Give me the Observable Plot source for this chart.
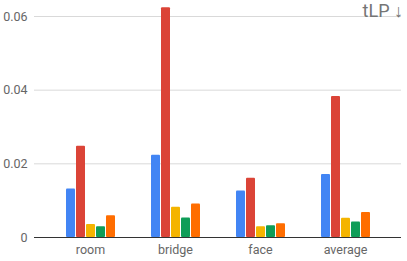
<!DOCTYPE html>
<html><head><meta charset="utf-8">
<script src="https://cdn.jsdelivr.net/npm/d3@7"></script>
<script src="https://cdn.jsdelivr.net/npm/@observablehq/plot@0.6"></script>
<style>
body{margin:0;background:#fff;font-family:Roboto,sans-serif;}
#wrap{position:relative;width:407px;height:261px;}
#wrap svg{position:absolute;left:0;top:0;}
#title{position:absolute;right:4px;top:2px;font-family:Roboto,sans-serif;font-size:18px;line-height:18px;color:#757575;z-index:3;white-space:nowrap;}
</style></head><body>
<div id="wrap"><div id="title">tLP ↓</div></div>
<script>
const groups = ["room", "bridge", "face", "average"];
const series = ["m1", "m2", "m3", "m4", "m5"];
const colors = ["#4285F4", "#DB4437", "#F4B400", "#0F9D58", "#FF6D00"];
const values = {
  m1: [0.0132, 0.0223, 0.0126, 0.0171],
  m2: [0.0248, 0.0624, 0.0161, 0.0383],
  m3: [0.0035, 0.0082, 0.0029, 0.0052],
  m4: [0.0029, 0.0053, 0.0032, 0.0042],
  m5: [0.0059, 0.0091, 0.0037, 0.0068]
};
const yTicks = [0, 0.02, 0.04, 0.06];
const data = [];
groups.forEach((g, i) => series.forEach(s => data.push({group: g, series: s, value: values[s][i]})));

const common = {
  width: 407, height: 261,
  marginLeft: 34, marginRight: 6, marginTop: 16, marginBottom: 24,
  style: {fontFamily: "Roboto, sans-serif", fontSize: "12.5px", color: "#666", background: "transparent", overflow: "visible"}
};
const yScale = {domain: [0, 0.06], ticks: yTicks, tickFormat: d => d === 0 ? "0" : d.toFixed(2), tickSize: 0, tickPadding: 7, label: null};

const back = Plot.plot({
  ...common,
  x: {axis: null},
  y: yScale,
  marks: [
    Plot.ruleY(yTicks.slice(1), {stroke: "#d9d9d9", strokeWidth: 1})
  ]
});

const front = Plot.plot({
  ...common,
  fx: {domain: groups, paddingInner: 0.34, paddingOuter: 0.3288, label: null, tickSize: 0, tickPadding: 8, axis: "bottom"},
  x: {domain: series, paddingInner: 0.1, paddingOuter: 0.17, axis: null},
  y: {...yScale, axis: null},
  color: {domain: series, range: colors},
  marks: [
    Plot.barY(data, {fx: "group", x: "series", y: "value", fill: "series", rx: 1})
  ]
});

const base = Plot.plot({
  ...common,
  x: {axis: null},
  y: {...yScale, axis: null},
  marks: [Plot.ruleY([0], {stroke: "#333", strokeWidth: 1})]
});

const wrap = document.getElementById("wrap");
wrap.prepend(base);
wrap.prepend(front);
wrap.prepend(back);
</script>
</body></html>
